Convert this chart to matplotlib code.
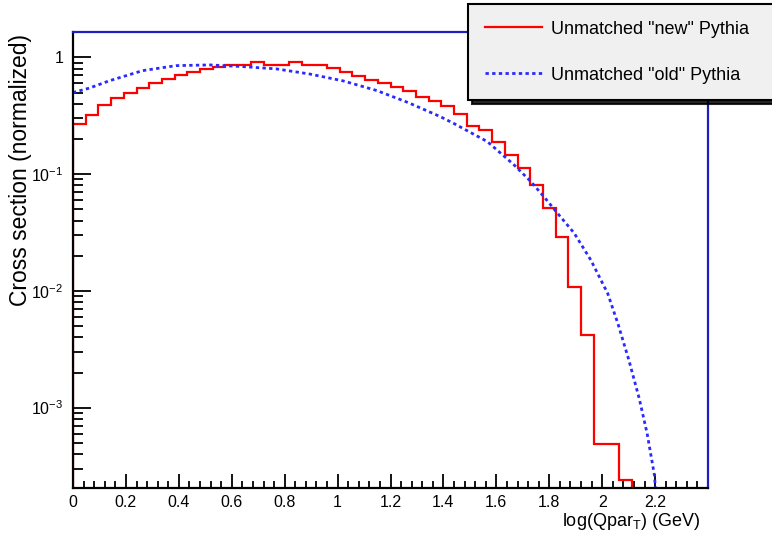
import matplotlib
matplotlib.use("Agg")
import matplotlib.pyplot as plt
import numpy as np

plt.rcParams['font.family'] = ['Liberation Sans', 'DejaVu Sans']
plt.rcParams['mathtext.default'] = 'regular'

# red histogram: 50 bins over 0..2.4, only the first 44 are non-empty
bin_edges = np.linspace(0, 2.4, 51)
new_pythia = [0.27, 0.32, 0.39, 0.445, 0.50, 0.545, 0.60, 0.655, 0.71, 0.755,
              0.80, 0.835, 0.86, 0.865, 0.92, 0.865, 0.865, 0.91, 0.865, 0.86,
              0.81, 0.75, 0.695, 0.64, 0.60, 0.56, 0.52, 0.455, 0.42, 0.38,
              0.33, 0.26, 0.237, 0.188, 0.147, 0.112, 0.081, 0.051, 0.029, 0.0109,
              0.0042, 4.9e-4, 4.9e-4, 2.4e-4]

# blue smooth curve
old_x = [0.0, 0.061, 0.137, 0.263, 0.39, 0.516, 0.641, 0.769, 0.895, 1.02,
         1.148, 1.267, 1.388, 1.439, 1.566, 1.667, 1.730, 1.780, 1.831, 1.894,
         1.957, 2.021, 2.06, 2.10, 2.14, 2.17, 2.198, 2.205]
old_y = [0.50, 0.545, 0.63, 0.77, 0.85, 0.862, 0.834, 0.797, 0.72, 0.63,
         0.52, 0.41, 0.311, 0.272, 0.19, 0.12, 0.0866, 0.064, 0.0463, 0.0313,
         0.0184, 0.0095, 0.0052, 0.0026, 0.0012, 6.0e-4, 2.6e-4, 1.5e-4]

fig = plt.figure(figsize=(7.72, 5.36), dpi=100)
ax = fig.add_axes([73/772, 1-488/536, 635/772, 456/536])

edges = bin_edges[:len(new_pythia)+1]
ax.stairs(new_pythia, edges, baseline=1e-6, color='red', lw=1.6,
          label='Unmatched "new" Pythia')
ax.plot(old_x, old_y, color='#2a2aff', lw=2.0, ls=(0, (1.2, 1.2)),
        label='Unmatched "old" Pythia')

ax.set_yscale('log')
ax.set_xlim(0, 2.4)
ax.set_ylim(2.05e-4, 1.65)

ax.set_xticks(np.arange(0, 2.3, 0.2))
ax.set_xticklabels(['0', '0.2', '0.4', '0.6', '0.8', '1', '1.2', '1.4', '1.6',
                    '1.8', '2', '2.2'])
ax.set_xticks(np.arange(0, 2.4, 0.04), minor=True)
ax.set_yticks([1e-3, 1e-2, 1e-1, 1])
ax.set_yticklabels(['$10^{-3}$', '$10^{-2}$', '$10^{-1}$', '1'])
ax.yaxis.set_minor_locator(matplotlib.ticker.LogLocator(subs=np.arange(2, 10)))
ax.yaxis.set_minor_formatter(matplotlib.ticker.NullFormatter())

ax.tick_params(axis='x', which='major', direction='in', length=10, width=1.3,
               labelsize=11.5, pad=5)
ax.tick_params(axis='x', which='minor', direction='in', length=5, width=1.3)
ax.tick_params(axis='y', which='major', direction='in', length=13, width=1.3,
               labelsize=11.5, pad=7)
ax.tick_params(axis='y', which='minor', direction='in', length=7, width=1.3)

for s in ['left', 'bottom']:
    ax.spines[s].set_linewidth(1.6)
    ax.spines[s].set_color('black')
for s in ['top', 'right']:
    ax.spines[s].set_linewidth(1.6)
    ax.spines[s].set_color('#1f1fc0')

fig.text(21/772, 1-34/536, 'Cross section (normalized)', rotation=90,
         ha='center', va='top', fontsize=16.5)
fig.text(700/772, 1-521/536, 'log(Qpar$_{T}$) (GeV)', ha='right', va='center',
         fontsize=13)

leg = fig.legend(loc='upper left',
                 bbox_to_anchor=(468/772, 1-103/536, 330/772, 99/536),
                 mode='expand', borderaxespad=0,
                 fontsize=13, handlelength=3.2, labelspacing=1.6,
                 borderpad=0.92, handletextpad=0.45, fancybox=False,
                 shadow={'ox': 3, 'oy': -3, 'color': 'black', 'alpha': 0.85},
                 framealpha=1, facecolor='#f0f0f0', edgecolor='black')
leg.get_frame().set_linewidth(1.5)

fig.savefig('out.png', dpi=100)
